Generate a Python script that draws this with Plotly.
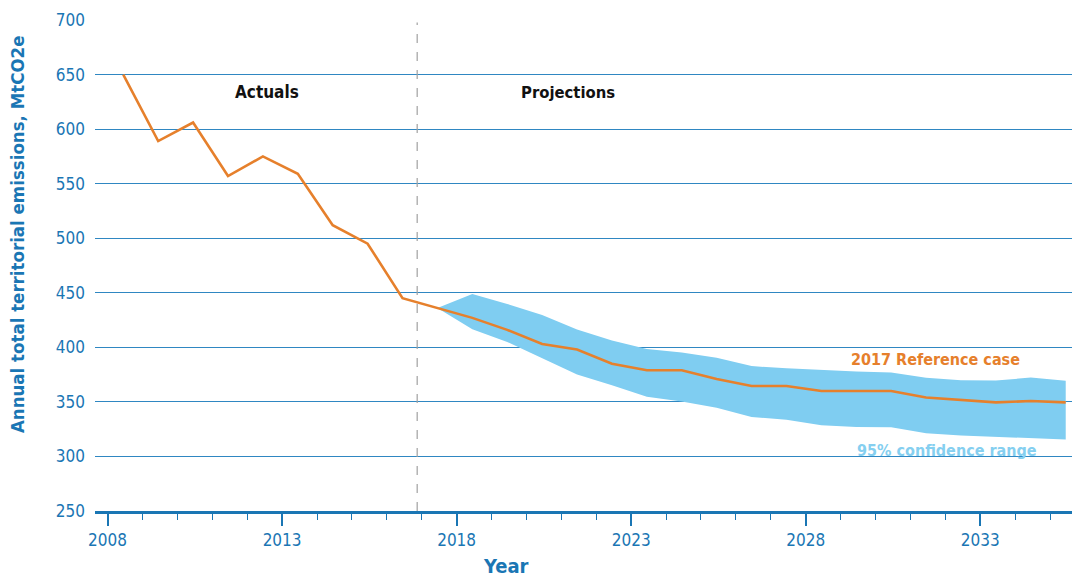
import plotly.graph_objects as go

# ---- data ----
actual_years = [2008, 2009, 2010, 2011, 2012, 2013, 2014, 2015, 2016, 2017]
actual_values = [650, 589, 606, 557, 575, 559, 512, 495, 445, 436]

proj_years = list(range(2017, 2036))
reference_case = [436, 427, 416, 403, 398, 385, 379, 379, 371, 364.5, 364.5,
                  360, 360, 360, 354, 351.7, 349.6, 350.8, 349.6]
band_upper = [436, 448.8, 439.8, 429.6, 416.3, 406.3, 398.5, 395.2, 390.5, 382.8,
              380.8, 379.3, 377.8, 377.0, 372.2, 369.8, 369.5, 372.3, 369.4]
band_lower = [436, 416.6, 405.0, 389.9, 375.1, 365.2, 354.7, 350.3, 344.7, 336.2,
              333.6, 328.6, 327.0, 326.7, 321.2, 319.3, 318.0, 316.7, 315.5]

tick_years = [2008, 2013, 2018, 2023, 2028, 2033]
tick_labels = [str(y) for y in tick_years]
y_ticks = [250, 300, 350, 400, 450, 500, 550, 600, 650, 700]
divider_year = 2016.42

# ---- styling ----
FONT = "Liberation Sans Narrow, DejaVu Sans Condensed, Roboto Condensed, Roboto, sans-serif"
BLUE = "#1a76b4"
GRID = "#2f87c2"
ORANGE = "#e6802c"
BAND = "#7fcdf1"
TICK_OFFSET = 0.45

fig = go.Figure()

fig.add_trace(go.Scatter(x=proj_years, y=band_lower, mode="lines",
                         line=dict(width=0, color=BAND), hoverinfo="skip",
                         showlegend=False))
fig.add_trace(go.Scatter(x=proj_years, y=band_upper, mode="lines",
                         line=dict(width=0, color=BAND), fill="tonexty",
                         fillcolor=BAND, hoverinfo="skip", showlegend=False))
fig.add_trace(go.Scatter(x=actual_years + proj_years[1:],
                         y=actual_values + reference_case[1:], mode="lines",
                         line=dict(color=ORANGE, width=2.6), showlegend=False))

fig.add_shape(type="line", xref="x", yref="paper", x0=divider_year, x1=divider_year,
              y0=0, y1=0.995, line=dict(color="#a0a0a0", width=1.2, dash="dash"))

fig.add_annotation(x=2012.12, y=633.6, text="<b>Actuals</b>", showarrow=False,
                   font=dict(family=FONT, size=17, color="#111111"))
fig.add_annotation(x=2020.74, y=633.6, text="<b>Projections</b>", showarrow=False,
                   font=dict(family=FONT, size=16.5, color="#111111"))
fig.add_annotation(x=2031.28, y=388.4, text="<b>2017 Reference case</b>", showarrow=False,
                   font=dict(family=FONT, size=16, color=ORANGE))
fig.add_annotation(x=2031.6, y=305.8, text="<b>95% confidence range</b>", showarrow=False,
                   font=dict(family=FONT, size=16, color="#85cff0"))

fig.add_annotation(xref="paper", yref="paper", x=(17 - 95) / 977, y=0.564,
                   text="<b>Annual total territorial emissions, MtCO2e</b>",
                   textangle=-90, showarrow=False, xanchor="center", yanchor="middle",
                   font=dict(family=FONT, size=18.5, color=BLUE))
fig.add_annotation(xref="paper", yref="paper", x=(506 - 95) / 977, y=-0.112,
                   text="<b>Year</b>", showarrow=False, xanchor="center", yanchor="middle",
                   font=dict(family=FONT, size=20, color=BLUE))

fig.update_xaxes(range=[2007.19, 2035.18],
                 tickvals=[y - TICK_OFFSET for y in tick_years], ticktext=tick_labels,
                 ticks="outside", ticklen=12, tickwidth=2, tickcolor=BLUE,
                 minor=dict(tick0=2008 - TICK_OFFSET, dtick=1, ticks="outside",
                            ticklen=6, tickwidth=1, tickcolor=BLUE, showgrid=False),
                 showgrid=False, zeroline=False, showline=True, linewidth=3,
                 linecolor=BLUE, tickfont=dict(family=FONT, size=17, color=BLUE))
fig.update_yaxes(range=[250, 700], tickvals=y_ticks, showgrid=True, gridcolor=GRID,
                 gridwidth=1.2, zeroline=False, showline=False, ticks="",
                 ticklabelstandoff=9,
                 tickfont=dict(family=FONT, size=17, color=BLUE))

fig.update_layout(width=1072, height=578, margin=dict(l=95, r=0, t=20, b=67),
                  plot_bgcolor="white", paper_bgcolor="white", showlegend=False)

fig.write_html("out.html")
